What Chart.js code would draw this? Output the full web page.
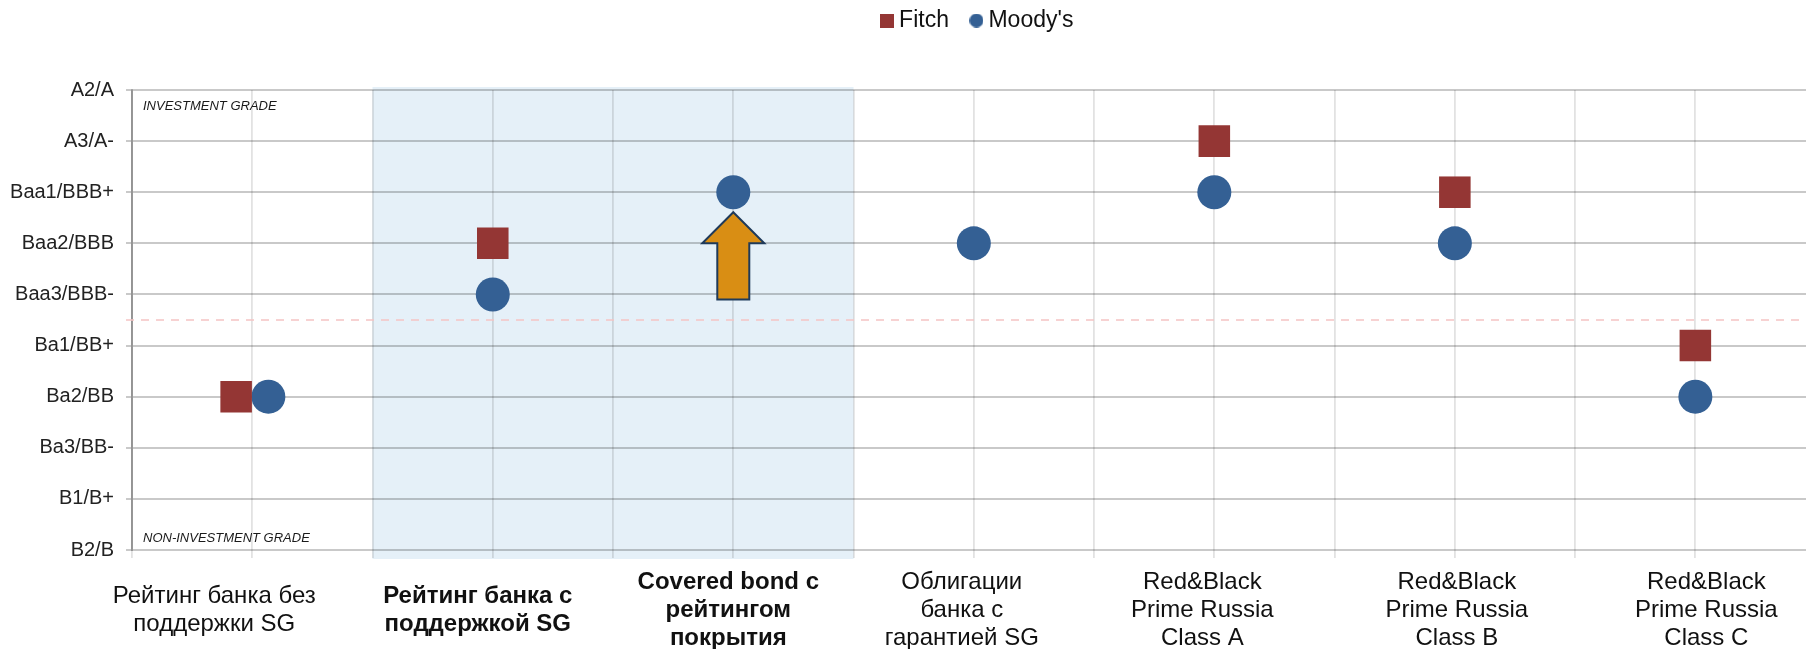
<!DOCTYPE html>
<html><head><meta charset="utf-8">
<script src="https://cdn.jsdelivr.net/npm/chart.js@4/dist/chart.umd.min.js"></script>
<style>
html,body{margin:0;padding:0;background:#fff;overflow:hidden}
#wrap{position:relative;width:1806px;height:649px}
</style>
</head><body><div id="wrap"><canvas id="c"></canvas></div>
<script>
// ---------------- data ----------------
const categories = [
  ['Рейтинг банка без', 'поддержки SG'],
  ['Рейтинг банка с', 'поддержкой SG'],
  ['Covered bond с', 'рейтингом', 'покрытия'],
  ['Облигации', 'банка с', 'гарантией SG'],
  ['Red&Black', 'Prime Russia', 'Class A'],
  ['Red&Black', 'Prime Russia', 'Class B'],
  ['Red&Black', 'Prime Russia', 'Class C']
];
const boldCategories = [1, 2];
const highlightedCategories = [1, 2];
const ratingScale = ['B2/B', 'B1/B+', 'Ba3/BB-', 'Ba2/BB', 'Ba1/BB+', 'Baa3/BBB-', 'Baa2/BBB', 'Baa1/BBB+', 'A3/A-', 'A2/A'];
const fitchRatings  = ['Ba2/BB', 'Baa2/BBB', null, null, 'A3/A-', 'Baa1/BBB+', 'Ba1/BB+'];
const moodysRatings = ['Ba2/BB', 'Baa3/BBB-', 'Baa1/BBB+', 'Baa2/BBB', 'Baa1/BBB+', 'Baa2/BBB', 'Ba2/BB'];
const seriesNames = ['Fitch', "Moody's"];
const gradeBoundary = ['Ba1/BB+', 'Baa3/BBB-'];
const zoneLabels = ['INVESTMENT GRADE', 'NON-INVESTMENT GRADE'];
const upgradeArrow = { category: 2, from: 'Baa3/BBB-', to: 'Baa1/BBB+' };

// ---------------- styling ----------------
const FONT = "'Liberation Sans', Arial, sans-serif";
const FITCH_COLOR = '#943634';
const MOODYS_COLOR = '#346094';
const DODGE = 0.067;
// small horizontal nudges (px) of the category label text, as laid out in the original slide
const LABEL_NUDGE = [-38, -15, -5, -12, -12, 2, 11];
const r = s => ratingScale.indexOf(s);

const fitchPts = [], moodysPts = [];
categories.forEach((c, i) => {
  const f = fitchRatings[i], m = moodysRatings[i];
  const same = f !== null && m !== null && f === m;
  if (f !== null) fitchPts.push({ x: i + 0.5 - (same ? DODGE : 0), y: r(f) });
  if (m !== null) moodysPts.push({ x: i + 0.5 + (same ? DODGE : 0), y: r(m) });
});

function makeIcon(draw) {
  const c = document.createElement('canvas');
  c.width = 14; c.height = 14;
  draw(c.getContext('2d'));
  return c;
}
const legendIcons = [
  makeIcon(g => { g.fillStyle = FITCH_COLOR; g.fillRect(0, 0, 14, 14); }),
  makeIcon(g => { g.fillStyle = MOODYS_COLOR; g.beginPath(); g.arc(7, 7, 7, 0, Math.PI * 2); g.fill(); })
];

const decor = {
  id: 'decor',
  beforeInit(chart) {
    const lg = chart.legend;
    const f = lg.fit;
    lg.fit = function () { f.call(this); this.height = 90; };
  },
  afterLayout(chart) {
    const lg = chart.legend;
    const dy = -18 - lg.top, dx = 11;
    lg.top += dy; lg.bottom += dy; lg.left += dx; lg.right += dx;
  },
  beforeDraw(chart) {
    const { ctx, chartArea: a, scales: { x } } = chart;
    // nudge category labels
    const items = x.getLabelItems(a);
    items.forEach(it => {
      if (it._nudged) return;
      const key = Array.isArray(it.label) ? it.label.join('|') : String(it.label);
      const idx = categories.findIndex(c => c.join('|') === key);
      if (idx >= 0) it.options.translation[0] += LABEL_NUDGE[idx];
      it._nudged = true;
    });
    ctx.save();
    ctx.fillStyle = '#E5F0F8';
    const lo = Math.min(...highlightedCategories), hi = Math.max(...highlightedCategories) + 1;
    const x0 = x.getPixelForValue(lo), x1 = x.getPixelForValue(hi);
    ctx.fillRect(x0, a.top - 3, x1 - x0, a.bottom - a.top + 12);
    ctx.restore();
  },
  beforeDatasetsDraw(chart) {
    const { ctx, chartArea: a, scales: { y } } = chart;
    ctx.save();
    const yb = y.getPixelForValue((r(gradeBoundary[0]) + r(gradeBoundary[1])) / 2);
    ctx.strokeStyle = '#F5C3C3';
    ctx.lineWidth = 1.6;
    ctx.setLineDash([8, 7]);
    ctx.beginPath(); ctx.moveTo(a.left - 6, yb); ctx.lineTo(a.right, yb); ctx.stroke();
    ctx.setLineDash([]);
    ctx.fillStyle = '#1a1a1a';
    ctx.font = 'italic 13px ' + FONT;
    ctx.textBaseline = 'middle';
    ctx.textAlign = 'left';
    ctx.fillText(zoneLabels[0], a.left + 11, a.top + 16);
    ctx.fillText(zoneLabels[1], a.left + 11, a.bottom - 12);
    ctx.restore();
  },
  afterDatasetsDraw(chart) {
    const { ctx, scales: { x, y } } = chart;
    const cx = x.getPixelForValue(upgradeArrow.category + 0.5);
    const yBottom = y.getPixelForValue(r(upgradeArrow.from)) + 5;
    const yTip = y.getPixelForValue(r(upgradeArrow.to)) + 20;
    const headLen = 31, headHalf = 31, shaftHalf = 16;
    ctx.save();
    ctx.beginPath();
    ctx.moveTo(cx, yTip);
    ctx.lineTo(cx + headHalf, yTip + headLen);
    ctx.lineTo(cx + shaftHalf, yTip + headLen);
    ctx.lineTo(cx + shaftHalf, yBottom);
    ctx.lineTo(cx - shaftHalf, yBottom);
    ctx.lineTo(cx - shaftHalf, yTip + headLen);
    ctx.lineTo(cx - headHalf, yTip + headLen);
    ctx.closePath();
    ctx.fillStyle = '#D98E14';
    ctx.fill();
    ctx.lineWidth = 2;
    ctx.strokeStyle = '#1F3A5A';
    ctx.stroke();
    ctx.restore();
  }
};

new Chart(document.getElementById('c'), {
  type: 'scatter',
  data: {
    datasets: [
      { label: seriesNames[0], data: fitchPts, pointStyle: 'rect', pointRadius: 22.3, pointHoverRadius: 22.3,
        backgroundColor: FITCH_COLOR, borderWidth: 0 },
      { label: seriesNames[1], data: moodysPts, pointStyle: 'circle', pointRadius: 17, pointHoverRadius: 17,
        backgroundColor: MOODYS_COLOR, borderWidth: 0 }
    ]
  },
  options: {
    responsive: true,
    maintainAspectRatio: false,
    animation: false,
    events: [],
    layout: { padding: 0, autoPadding: false },
    plugins: {
      tooltip: { enabled: false },
      legend: {
        position: 'top',
        fullSize: false,
        labels: {
          usePointStyle: true,
          boxWidth: 1,
          boxHeight: 14,
          padding: 27,
          color: '#111',
          font: { family: FONT, size: 23 },
          generateLabels(chart) {
            const items = Chart.defaults.plugins.legend.labels.generateLabels(chart);
            items.forEach(it => { it.pointStyle = legendIcons[it.datasetIndex]; });
            return items.sort((a, b) => a.datasetIndex - b.datasetIndex);
          }
        }
      }
    },
    scales: {
      x: {
        type: 'linear',
        min: 0,
        max: 6.96,
        afterFit(s) { s.height = 99; s.paddingLeft = 0; s.paddingRight = 0; },
        border: { display: false },
        grid: { color: 'rgba(0,0,0,0.115)', lineWidth: 1.8, tickLength: 8 },
        ticks: {
          stepSize: 0.5,
          includeBounds: false,
          autoSkip: false,
          maxRotation: 0,
          crossAlign: 'center',
          padding: 24,
          color: '#111',
          font(ctx) {
            const v = ctx.tick ? ctx.tick.value : 0;
            const idx = Math.round(v - 0.5);
            const bold = Math.abs(v - 0.5 - idx) < 1e-6 && boldCategories.includes(idx);
            return { family: FONT, size: 24, lineHeight: 1.17, weight: bold ? 'bold' : 'normal' };
          },
          callback(v) {
            const idx = Math.round(v - 0.5);
            if (Math.abs(v - 0.5 - idx) < 1e-6 && categories[idx]) return categories[idx];
            return '';
          }
        }
      },
      y: {
        min: 0,
        max: ratingScale.length - 1,
        afterFit(s) { s.width = 132; },
        border: { display: true, color: 'rgba(0,0,0,0.35)', width: 2 },
        grid: { color: 'rgba(0,0,0,0.21)', lineWidth: 2, tickLength: 6 },
        ticks: {
          stepSize: 1,
          padding: 12,
          color: '#222',
          font: { family: FONT, size: 20 },
          callback(v) { return ratingScale[v] ?? ''; }
        }
      }
    }
  },
  plugins: [decor]
});
</script>
</body></html>
